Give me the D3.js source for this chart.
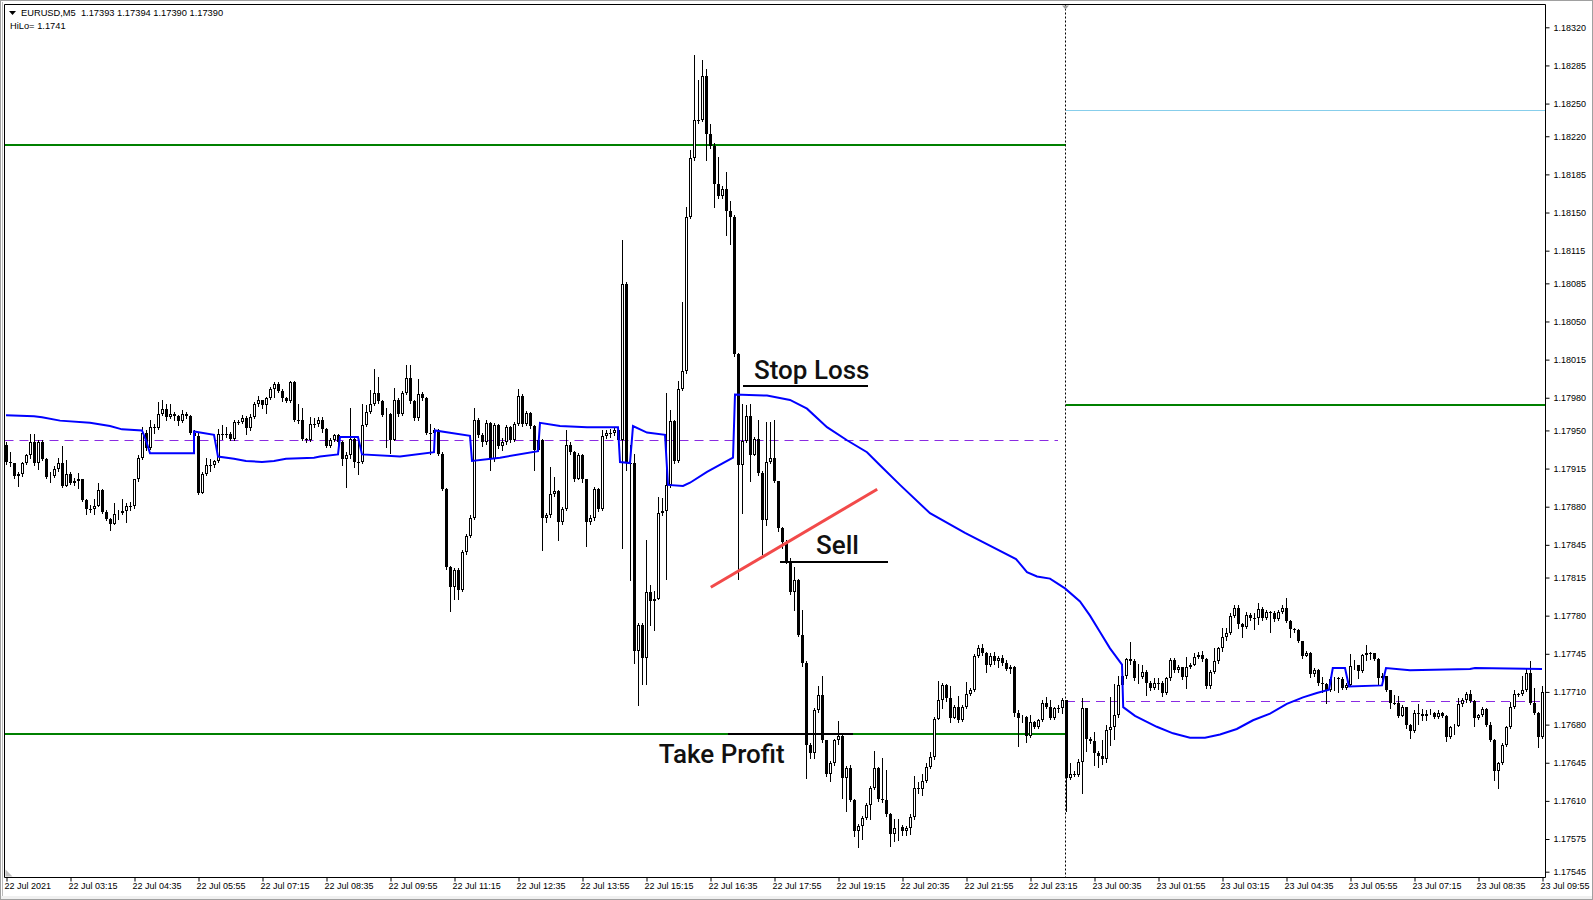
<!DOCTYPE html>
<html>
<head>
<meta charset="utf-8">
<script src="https://cdn.jsdelivr.net/npm/d3@7"></script>
<style>
  body { margin: 0; background: #fff; }
  svg { display: block; }
  .axis text { font-family: "Liberation Sans", Arial, sans-serif; font-size: 9px; fill: #000; }
  .axis line { stroke: #000; }
  .note { font-family: Roboto, "Noto Sans", sans-serif; font-weight: 500; font-size: 26px; fill: #111; }
</style>
</head>
<body>
<svg width="1593" height="900"></svg>
<script>
// EURUSD M5, 385 bars from 22 Jul 01:55 to 23 Jul 09:55
// prices are kept as points above 1.17000 (921 -> 1.17921), open = previous close
var firstOpen = 937;
var closes = [
  921,920,908,910,920,927,939,920,939,924, 907,908,915,920,899,910,902,904,905,886,
  878,878,881,895,875,869,864,873,874,876, 881,881,905,925,948,934,953,952,965,970,
  962,965,963,959,965,963,948,945,893,910, 918,918,922,947,947,947,942,958,958,961,
  952,962,974,978,973,980,988,993,986,980, 977,994,960,960,942,941,956,956,960,951,
  936,941,946,939,924,927,942,921,921,955, 967,974,984,977,964,965,941,978,965,984,
  998,977,961,983,980,948,948,950,928,896, 825,806,822,804,838,853,870,960,946,939,
  957,924,955,936,939,953,941,956,982,956, 966,954,932,941,870,872,892,894,866,878,
  937,930,905,927,905,866,870,896,878,945, 948,948,950,941,1084,920,920,748,771,741,
  802,793,795,874,876,900,959,922,988,1005, 1146,1200,1235,1235,1275,1222,1211,1176,1165,1172,
  1151,1146,1020,918,940,963,927,942,911,868, 921,925,904,860,848,830,802,813,762,737,
  661,654,693,707,666,635,645,666,670,631, 640,611,582,587,594,606,622,640,612,611,
  598,580,585,586,582,585,595,622,621,628, 641,650,685,703,716,704,686,696,684,696,
  708,712,743,750,746,735,743,738,741,737, 731,733,691,686,687,670,682,678,684,700,
  696,686,695,695,703,631,635,634,646,695, 667,665,654,651,648,675,678,689,716,725,
  740,738,723,724,728,718,714,718,718,709, 723,739,730,733,724,733,735,742,744,740,
  715,728,738,750,760,764,780,787,772,770, 781,778,778,786,778,783,782,777,783,787,
  775,768,767,757,743,746,726,730,718,717, 712,722,723,722,714,716,734,735,729,744,
  746,746,740,723,725,712,700,700,688,696, 680,674,691,690,688,690,691,687,691,688,
  669,678,679,699,703,708,702,686,689,694, 680,666,637,645,661,678,696,708,708,712,
  727,700,691,669,710
];
var highs = [
  939,930,920,912,921,928,947,947,941,941, 925,912,917,925,936,923,912,906,911,905,
  887,882,887,902,896,877,870,883,877,887, 883,884,905,927,953,950,960,956,976,978,
  974,974,967,964,969,967,964,950,948,912, 925,924,923,951,955,953,949,960,960,964,
  963,965,976,982,978,981,990,994,994,988, 981,995,995,974,971,943,962,961,962,962,
  952,943,947,947,940,930,971,943,942,974, 973,987,1006,999,978,971,966,989,980,986,
  1010,1010,978,997,985,981,956,952,951,930, 897,826,824,824,840,855,872,971,961,948,
  960,958,957,956,943,955,954,958,988,983, 968,967,955,944,942,874,916,907,895,880,
  950,939,931,929,928,904,872,898,897,950, 950,951,952,951,1125,1086,937,928,773,773,
  849,808,803,889,888,984,969,960,995,1068, 1155,1207,1295,1272,1290,1282,1231,1214,1201,1174,
  1187,1161,1148,1021,974,973,974,944,960,913, 958,958,960,904,861,849,833,825,814,785,
  738,663,695,715,725,666,647,667,683,672, 642,643,612,589,596,608,624,656,641,649,
  638,599,593,593,588,587,598,633,627,635, 645,655,687,720,718,717,715,698,706,698,
  719,714,745,753,754,747,746,747,743,744, 739,735,734,693,689,688,689,683,685,703,
  705,703,696,698,704,703,645,637,648,704, 685,669,673,656,666,680,705,717,725,735,
  741,756,740,736,735,730,720,723,723,720, 724,741,741,735,733,742,737,746,747,748,
  741,730,750,751,769,769,782,790,790,773, 783,782,782,792,788,785,784,784,785,790,
  796,776,769,768,757,748,747,732,731,724, 718,724,724,724,724,718,745,739,735,745,
  753,747,746,741,727,725,712,707,706,698, 696,681,693,699,694,693,694,692,693,692,
  689,679,681,704,704,710,712,703,690,696, 695,682,667,646,663,679,701,712,709,725,
  731,738,714,692,715
];
var lows = [
  919,917,906,899,908,919,925,918,915,923, 906,903,907,913,898,900,901,900,897,885,
  873,875,873,881,874,868,859,864,869,873, 866,877,879,904,924,932,933,948,951,964,
  960,961,960,955,958,961,947,942,892,893, 909,913,916,921,942,944,941,941,956,957,
  947,950,961,972,971,966,979,981,985,977, 976,976,959,957,941,939,940,953,954,949,
  935,935,940,937,918,898,925,916,910,920, 954,966,973,975,963,935,929,941,963,964,
  983,975,960,960,978,947,928,945,927,895, 823,784,795,795,803,837,852,869,944,936,
  938,914,922,934,932,938,939,940,955,954, 955,952,914,931,840,866,871,890,849,864,
  877,928,904,905,903,844,864,868,876,877, 943,944,946,940,842,914,813,737,698,717,
  717,771,767,795,872,814,898,920,921,987, 1003,1145,1198,1232,1234,1198,1209,1155,1163,1163,
  1129,1121,1018,814,874,939,904,930,909,837, 863,920,903,858,842,828,800,785,761,734,
  631,649,649,692,664,633,628,643,662,613, 601,610,578,568,575,593,593,621,610,609,
  596,569,573,574,579,579,580,593,617,615, 627,640,648,686,695,702,682,686,682,683,
  695,707,711,742,744,728,734,736,733,735, 730,727,688,660,682,664,669,677,677,683,
  695,685,685,692,691,601,630,633,633,617, 656,663,643,641,644,646,661,667,687,714,
  723,736,721,718,723,707,712,713,713,706, 708,721,728,728,722,714,732,735,741,738,
  714,714,727,737,748,758,763,779,769,760, 769,776,768,772,776,777,765,775,776,782,
  774,760,765,756,741,744,724,725,716,710, 700,711,712,710,713,713,715,731,723,728,
  739,740,739,716,722,711,695,699,687,688, 677,668,673,681,684,684,690,686,686,687,
  665,668,671,679,697,701,701,679,685,688, 679,665,629,622,644,660,677,695,706,707,
  711,699,690,659,668
];

// HiLo indicator (blue), vertices as bar index / points
var hiloBars = [0,7,9,13.5,21,26,29,34,35,36, 47,47,52,53,57,60,64,67,70,77,
  78.5,83,83.5,88,89,98.5,107,107.25,116,116.5, 123.5,133,133.5,138.5,145.25,153,153.5,156,156.75,160.25,
  164.75,165.5,169.25,171,175.25,181.75,182.25,190.25,196,200.25, 205.25,210.25,215.25,218.5,223.5,231,239.75,252.5,255.25,257.75,
  261,264.75,268.5,271,273.5,276,279,279.3,282.25,287.7, 291.75,296,299.75,303.5,307.7,311.75,316,320.2,324.25,327.7,
  330.75,331.7,334.75,335.75,344,345,351,366,367.25,384];
var hiloVals = [964,963,962,959,957,954,951,950,941,929, 929,949,946,926,924,922,921,922,924,925,
  926,928,944,944,928,926,930,950,945,922, 925,931,957,954,953,953,921,920,954,948,
  946,900,899,902,912,925,983,982,978,970, 953,941,930,918,900,874,856,832,820,816,
  814,805,793,780,765,750,735,696,688,678, 672,668,668,671,676,684,690,699,705,709,
  712,732,732,715,716,732,730,731,732,731];

// axis labels
var priceTicks = [1.18320,1.18285,1.18250,1.18220,1.18185,1.18150,1.18115,1.18085,1.18050,1.18015,
  1.17980,1.17950,1.17915,1.17880,1.17845,1.17815,1.17780,1.17745,1.17710,1.17680,1.17645,1.17610,1.17575,1.17545];
var timeLabels = ["22 Jul 2021","22 Jul 03:15","22 Jul 04:35","22 Jul 05:55","22 Jul 07:15","22 Jul 08:35",
  "22 Jul 09:55","22 Jul 11:15","22 Jul 12:35","22 Jul 13:55","22 Jul 15:15","22 Jul 16:35","22 Jul 17:55",
  "22 Jul 19:15","22 Jul 20:35","22 Jul 21:55","22 Jul 23:15","23 Jul 00:35","23 Jul 01:55","23 Jul 03:15",
  "23 Jul 04:35","23 Jul 05:55","23 Jul 07:15","23 Jul 08:35","23 Jul 09:55"];
var labelBars = [0,16,32,48,64,80,96,112,128,144,160,176,192,208,224,240,256,272,288,304,320,336,352,368,384];

// chart objects: horizontal levels (points) and the day separator bar
var dayBreak = 265;
var levelsLeft = [{p: 1212, color: "#008000"}, {p: 671, color: "#008000"}];
var levelsRight = [{p: 1244, color: "#87ceeb"}, {p: 973, color: "#008000"}];
var dashLeft = 941, dashRight = 702;
var trendBars = [176.2, 217.8], trendVals = [806, 896];
var notes = [
  {text: "Stop Loss", bar: 187, p: 997, lineFrom: 184.25, lineTo: 215.5, lineP: 991},
  {text: "Sell", bar: 202.5, p: 837, lineFrom: 193.5, lineTo: 220.5, lineP: 829},
  {text: "Take Profit", bar: 163.2, p: 645, lineFrom: 180.5, lineTo: 211.75, lineP: 671}
];

var price = function(v) { return 1.17 + v / 100000; };

var svg = d3.select("svg");
var pl = 4.5, pt = 4.5, pr = 1545.5, pb = 877.5;

var x = d3.scaleLinear().domain([0, 384]).range([6, 1542]);
var y = d3.scaleLinear().domain([1.17545, 1.18320]).range([871.7, 27.3]);

// window frame
svg.append("rect").attr("x", 0).attr("y", 0).attr("width", 1593).attr("height", 900).attr("fill", "#fff");
svg.append("rect").attr("x", 0.5).attr("y", 0.5).attr("width", 1592).attr("height", 899)
  .attr("fill", "none").attr("stroke", "#a0a0a0");
svg.append("rect").attr("x", 1).attr("y", 896).attr("width", 1591).attr("height", 3).attr("fill", "#f0f0f0");

svg.append("defs").append("clipPath").attr("id", "plot")
  .append("rect").attr("x", pl).attr("y", pt).attr("width", pr - pl).attr("height", pb - pt);

var g = svg.append("g").attr("clip-path", "url(#plot)");

// levels
levelsLeft.forEach(function(l) {
  g.append("line").attr("x1", pl).attr("x2", x(dayBreak))
    .attr("y1", Math.round(y(price(l.p)))).attr("y2", Math.round(y(price(l.p))))
    .attr("stroke", l.color).attr("stroke-width", 2);
});
levelsRight.forEach(function(l) {
  g.append("line").attr("x1", x(dayBreak)).attr("x2", pr)
    .attr("y1", Math.round(y(price(l.p))) + (l.color == "#87ceeb" ? 0.5 : 0))
    .attr("y2", Math.round(y(price(l.p))) + (l.color == "#87ceeb" ? 0.5 : 0))
    .attr("stroke", l.color).attr("stroke-width", l.color == "#87ceeb" ? 1 : 2);
});
g.append("line").attr("x1", pl).attr("x2", x(dayBreak) - 8)
  .attr("y1", Math.round(y(price(dashLeft))) + 0.5).attr("y2", Math.round(y(price(dashLeft))) + 0.5)
  .attr("stroke", "#8a2be2").attr("stroke-dasharray", "9,6");
g.append("line").attr("x1", x(dayBreak)).attr("x2", pr - 5)
  .attr("y1", Math.round(y(price(dashRight))) + 0.5).attr("y2", Math.round(y(price(dashRight))) + 0.5)
  .attr("stroke", "#8a2be2").attr("stroke-dasharray", "9,6");

// day separator
g.append("line").attr("x1", Math.round(x(dayBreak)) - 0.5).attr("x2", Math.round(x(dayBreak)) - 0.5)
  .attr("y1", pt).attr("y2", pb)
  .attr("stroke", "#000").attr("stroke-dasharray", "2,2");

// candles
var bars = closes.map(function(c, i) {
  var o = i == 0 ? firstOpen : closes[i - 1];
  return {i: i, o: o, c: c, h: Math.max(highs[i], o, c), l: Math.min(lows[i], o, c)};
});
var candle = g.append("g").selectAll("g").data(bars).enter().append("g");
candle.append("line")
  .attr("x1", function(d) { return Math.round(x(d.i)) + 0.5; })
  .attr("x2", function(d) { return Math.round(x(d.i)) + 0.5; })
  .attr("y1", function(d) { return Math.round(y(price(d.h))); })
  .attr("y2", function(d) { return Math.round(y(price(d.l))) + 1; })
  .attr("stroke", "#000");
candle.append("rect")
  .attr("x", function(d) { return d.c > d.o ? Math.round(x(d.i)) - 0.5 : Math.round(x(d.i)) - 1; })
  .attr("y", function(d) {
    var t = Math.round(y(price(Math.max(d.o, d.c))));
    return d.c > d.o ? t + 0.5 : t;
  })
  .attr("width", function(d) { return d.c > d.o ? 2 : 3; })
  .attr("height", function(d) {
    var h = Math.round(y(price(Math.min(d.o, d.c)))) - Math.round(y(price(Math.max(d.o, d.c))));
    return d.c > d.o ? Math.max(h - 1, 0) : Math.max(h, 1);
  })
  .attr("fill", function(d) { return d.c > d.o ? "#fff" : "#000"; })
  .attr("stroke", function(d) { return d.c > d.o ? "#000" : "none"; });

// HiLo line
var hilo = hiloBars.map(function(b, i) { return [b, hiloVals[i]]; });
g.append("path").datum(hilo)
  .attr("fill", "none").attr("stroke", "#0000ff").attr("stroke-width", 2)
  .attr("d", d3.line().x(function(d) { return x(d[0]); }).y(function(d) { return y(price(d[1])); }));

// trend line
g.append("line")
  .attr("x1", x(trendBars[0])).attr("y1", y(price(trendVals[0])))
  .attr("x2", x(trendBars[1])).attr("y2", y(price(trendVals[1])))
  .attr("stroke", "#f24a4a").attr("stroke-width", 3);

// annotations
notes.forEach(function(n) {
  g.append("line").attr("x1", x(n.lineFrom)).attr("x2", x(n.lineTo))
    .attr("y1", Math.round(y(price(n.lineP)))).attr("y2", Math.round(y(price(n.lineP))))
    .attr("stroke", "#000").attr("stroke-width", 2);
  g.append("text").attr("class", "note").attr("x", x(n.bar)).attr("y", y(price(n.p))).text(n.text);
});

// frame and axes
svg.append("path").attr("fill", "none").attr("stroke", "#000")
  .attr("d", "M" + pl + "," + pb + "V" + pt + "H" + pr + "V" + pb + "H" + pl);
svg.append("line").attr("x1", 2.5).attr("x2", 2.5).attr("y1", 2).attr("y2", 896).attr("stroke", "#bbb");

var yAxis = svg.append("g").attr("class", "axis").attr("transform", "translate(" + pr + ",0)")
  .call(d3.axisRight(y).tickValues(priceTicks).tickFormat(d3.format(".5f")).tickSize(4).tickPadding(4));
yAxis.select(".domain").remove();

var xAxis = svg.append("g").attr("class", "axis").attr("transform", "translate(0," + pb + ")")
  .call(d3.axisBottom(x).tickValues(labelBars).tickFormat(function(d, i) { return timeLabels[i]; })
    .tickSize(4).tickPadding(1));
xAxis.select(".domain").remove();
xAxis.selectAll("line").attr("transform", "translate(0.5,0)");
xAxis.selectAll("text").attr("text-anchor", "start").attr("dx", -2);

// scroll markers
svg.append("path").attr("d", "M" + (pl + 1) + "," + (pb - 8) + "l0,7l7,0z").attr("fill", "#c0c0c0");
svg.append("path").attr("d", "M" + (x(dayBreak) - 4) + "," + (pt + 1) + "l7,0l-3.5,4z").attr("fill", "#a0a0a0");

// header
svg.append("path").attr("d", "M9,11h7l-3.5,4z").attr("fill", "#000");
svg.append("text").attr("x", 21).attr("y", 16).attr("font-family", "Liberation Sans, Arial, sans-serif")
  .attr("font-size", "9.3px").attr("xml:space", "preserve")
  .text("EURUSD,M5  1.17393 1.17394 1.17390 1.17390");
svg.append("text").attr("x", 10).attr("y", 28.5).attr("font-family", "Liberation Sans, Arial, sans-serif")
  .attr("font-size", "9.3px").text("HiLo= 1.1741");
</script>
</body>
</html>
